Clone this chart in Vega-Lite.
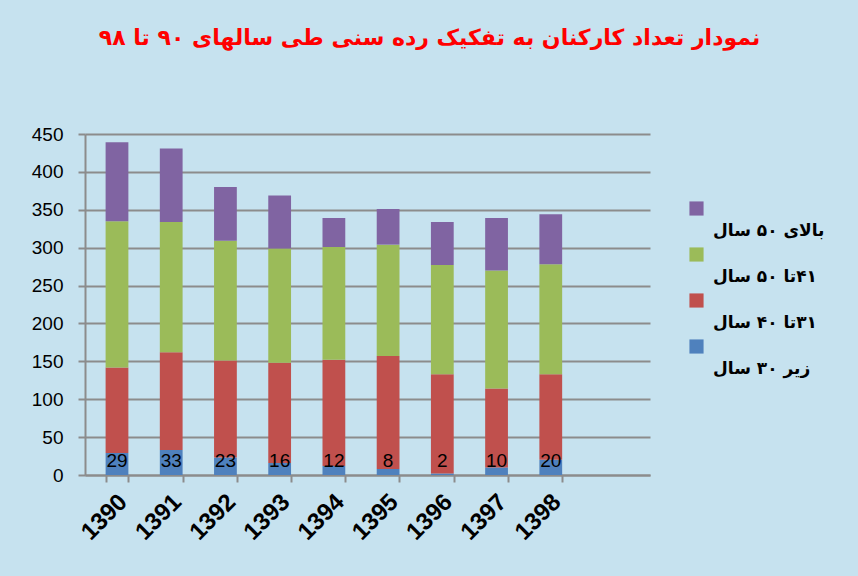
{
  "$schema": "https://vega.github.io/schema/vega-lite/v6.json",
  "width": 565,
  "height": 341,
  "autosize": {"type": "none"},
  "padding": {"left": 85, "top": 134, "right": 208, "bottom": 101},
  "background": "#c6e2ef",
  "config": {"view": {"stroke": null}},
  "title": {
    "text": "نمودار تعداد کارکنان به تفکیک رده سنی طی سالهای ۹۰ تا ۹۸",
    "color": "#ff0000",
    "font": "DejaVu Sans",
    "fontSize": 22,
    "fontWeight": "bold",
    "anchor": "middle",
    "dx": 62,
    "offset": 75
  },
  "data": {
    "values": [
      {"year": "1390", "group": "زیر ۳۰ سال", "value": 29},
      {"year": "1390", "group": "‏۳۱تا ۴۰ سال", "value": 113},
      {"year": "1390", "group": "‏۴۱تا ۵۰ سال", "value": 193},
      {"year": "1390", "group": "بالای ۵۰ سال", "value": 104},
      {"year": "1391", "group": "زیر ۳۰ سال", "value": 33},
      {"year": "1391", "group": "‏۳۱تا ۴۰ سال", "value": 129},
      {"year": "1391", "group": "‏۴۱تا ۵۰ سال", "value": 172},
      {"year": "1391", "group": "بالای ۵۰ سال", "value": 97},
      {"year": "1392", "group": "زیر ۳۰ سال", "value": 23},
      {"year": "1392", "group": "‏۳۱تا ۴۰ سال", "value": 128},
      {"year": "1392", "group": "‏۴۱تا ۵۰ سال", "value": 158},
      {"year": "1392", "group": "بالای ۵۰ سال", "value": 71},
      {"year": "1393", "group": "زیر ۳۰ سال", "value": 16},
      {"year": "1393", "group": "‏۳۱تا ۴۰ سال", "value": 132},
      {"year": "1393", "group": "‏۴۱تا ۵۰ سال", "value": 151},
      {"year": "1393", "group": "بالای ۵۰ سال", "value": 70},
      {"year": "1394", "group": "زیر ۳۰ سال", "value": 12},
      {"year": "1394", "group": "‏۳۱تا ۴۰ سال", "value": 140},
      {"year": "1394", "group": "‏۴۱تا ۵۰ سال", "value": 149},
      {"year": "1394", "group": "بالای ۵۰ سال", "value": 38},
      {"year": "1395", "group": "زیر ۳۰ سال", "value": 8},
      {"year": "1395", "group": "‏۳۱تا ۴۰ سال", "value": 149},
      {"year": "1395", "group": "‏۴۱تا ۵۰ سال", "value": 147},
      {"year": "1395", "group": "بالای ۵۰ سال", "value": 47},
      {"year": "1396", "group": "زیر ۳۰ سال", "value": 2},
      {"year": "1396", "group": "‏۳۱تا ۴۰ سال", "value": 131},
      {"year": "1396", "group": "‏۴۱تا ۵۰ سال", "value": 144},
      {"year": "1396", "group": "بالای ۵۰ سال", "value": 57},
      {"year": "1397", "group": "زیر ۳۰ سال", "value": 10},
      {"year": "1397", "group": "‏۳۱تا ۴۰ سال", "value": 104},
      {"year": "1397", "group": "‏۴۱تا ۵۰ سال", "value": 156},
      {"year": "1397", "group": "بالای ۵۰ سال", "value": 69},
      {"year": "1398", "group": "زیر ۳۰ سال", "value": 20},
      {"year": "1398", "group": "‏۳۱تا ۴۰ سال", "value": 113},
      {"year": "1398", "group": "‏۴۱تا ۵۰ سال", "value": 145},
      {"year": "1398", "group": "بالای ۵۰ سال", "value": 66}
    ]
  },
  "transform": [
    {"calculate": "indexof(['زیر ۳۰ سال', '‏۳۱تا ۴۰ سال', '‏۴۱تا ۵۰ سال', 'بالای ۵۰ سال'], datum.group)", "as": "stackOrder"}
  ],
  "encoding": {
    "x": {
      "field": "year",
      "type": "nominal",
      "scale": {"paddingInner": 0.58, "paddingOuter": 1.17, "align": 0.19},
      "axis": {
        "title": null,
        "labelAngle": -45,
        "labelAlign": "right",
        "labelBaseline": "middle",
        "labelFont": "Liberation Sans",
        "labelFontSize": 24,
        "labelFontWeight": "bold",
        "labelColor": "#000000",
        "labelPadding": 16,
        "labelOffset": 6,
        "domainColor": "#8c8c8c",
        "domainWidth": 2,
        "tickColor": "#8c8c8c",
        "tickWidth": 2,
        "tickSize": 7,
        "tickBand": "extent",
        "grid": false
      }
    },
    "y": {
      "field": "value",
      "type": "quantitative",
      "stack": "zero",
      "scale": {"domain": [0, 450], "nice": false},
      "axis": {
        "title": null,
        "values": [0, 50, 100, 150, 200, 250, 300, 350, 400, 450],
        "labelOverlap": false,
        "labelFont": "Liberation Sans",
        "labelFontSize": 19,
        "labelColor": "#000000",
        "labelPadding": 15,
        "domainColor": "#8c8c8c",
        "domainWidth": 2,
        "tickColor": "#8c8c8c",
        "tickWidth": 2,
        "tickSize": 7,
        "gridColor": "#8c8c8c",
        "gridWidth": 2
      }
    }
  },
  "layer": [
    {
      "mark": {"type": "bar"},
      "encoding": {
        "order": {"field": "stackOrder", "type": "quantitative"},
        "color": {
          "field": "group",
          "type": "nominal",
          "scale": {
            "domain": ["زیر ۳۰ سال", "‏۳۱تا ۴۰ سال", "‏۴۱تا ۵۰ سال", "بالای ۵۰ سال"],
            "range": ["#4f81bd", "#c0504d", "#9bbb59", "#8064a2"]
          },
          "legend": {
            "title": null,
            "orient": "none",
            "legendX": 603,
            "legendY": 66,
            "values": ["بالای ۵۰ سال", "‏۴۱تا ۵۰ سال", "‏۳۱تا ۴۰ سال", "زیر ۳۰ سال"],
            "symbolType": "square",
            "symbolSize": 200,
            "symbolStrokeWidth": 0,
            "labelFont": "DejaVu Sans",
            "labelFontSize": 17,
            "labelFontWeight": "bold",
            "labelColor": "#000000",
            "labelOffset": 8,
            "rowPadding": 7,
            "labelLimit": 200,
            "encode": {"labels": {"update": {"dy": {"value": 22}}}}
          }
        }
      }
    },
    {
      "transform": [{"filter": "datum.stackOrder === 0"}],
      "mark": {
        "type": "text",
        "font": "Liberation Sans",
        "fontSize": 19,
        "color": "#000000",
        "dy": -14
      },
      "encoding": {
        "y": {"datum": 0, "type": "quantitative"},
        "text": {"field": "value", "type": "quantitative"}
      }
    }
  ]
}
